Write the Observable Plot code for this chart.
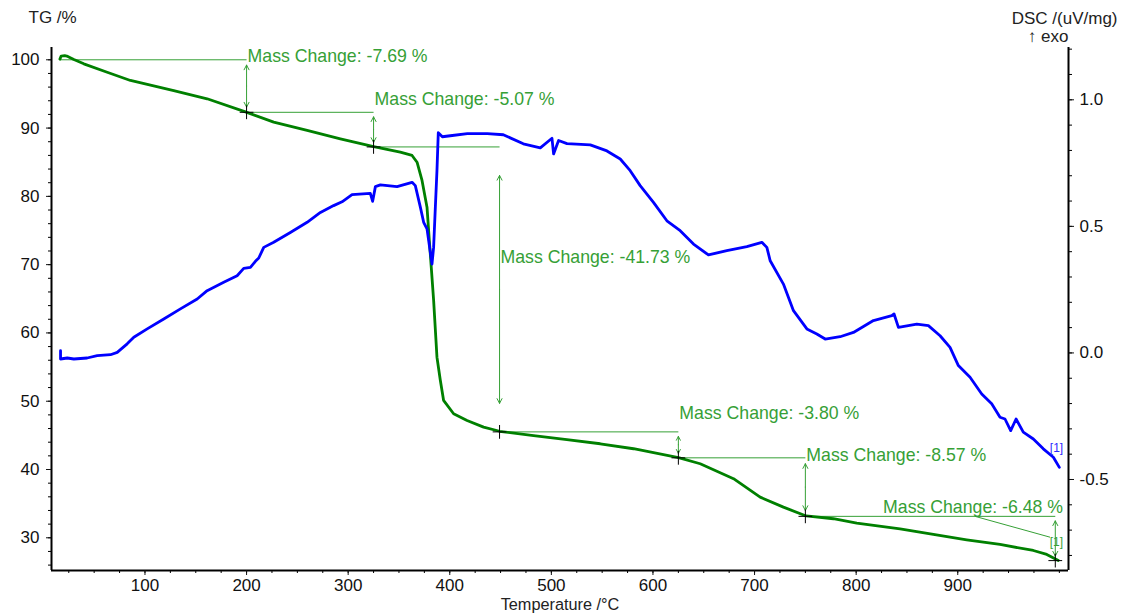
<!DOCTYPE html>
<html><head><meta charset="utf-8">
<script src="https://cdn.jsdelivr.net/npm/d3@7"></script>
<script src="https://cdn.jsdelivr.net/npm/@observablehq/plot@0.6"></script>
<style>html,body{margin:0;padding:0;background:#fff;overflow:hidden;}</style>
</head><body><div id="chart"></div>
<script>
// ---------- data ----------
// TG curve: [temperature °C, TG %]
const tgCurve = [[16.3,100.1],[17.5,100.55],[21,100.6],[24,100.5],[30,100.05],[39.8,99.41],[62.8,98.18],[85.7,96.97],[128.3,95.5],[161.2,94.29],[199.6,92.33],[226.7,90.87],[259.6,89.65],[292.3,88.43],[325.1,87.3],[351.3,86.47],[362.9,85.99],[367.8,85.0],[372.7,82.33],[377.6,78.42],[379.9,73.5],[381.8,69.6],[384.1,64.8],[387.4,56.45],[390.7,53.06],[393.9,50.13],[403.8,48.16],[417,47.18],[433.3,46.2],[449,45.6],[482.5,44.97],[515.3,44.36],[548.1,43.77],[580.9,43.04],[625.1,41.75],[646.5,40.84],[679.3,38.65],[705.5,35.95],[728.4,34.49],[750.8,33.2],[777.6,32.79],[800.6,32.14],[843.2,31.32],[876,30.49],[908.8,29.71],[941.6,29.02],[974.4,28.14],[987.6,27.56],[999,26.68]];
// DSC curve: [temperature °C, DSC uV/mg]
const dscCurve = [[16.9,0.009],[16.9,-0.024],[23.5,-0.020],[30.0,-0.024],[43.1,-0.020],[53,-0.011],[66.1,-0.007],[72.7,0.002],[82.5,0.036],[89,0.062],[102.2,0.095],[118.5,0.134],[134.9,0.174],[151.4,0.213],[161.2,0.246],[177.5,0.279],[190.7,0.305],[197.2,0.334],[203.8,0.338],[208.7,0.362],[212,0.375],[216.9,0.417],[226.7,0.437],[243.1,0.476],[259.6,0.516],[272.7,0.555],[285.7,0.582],[294,0.597],[303.8,0.625],[321.8,0.630],[324.1,0.599],[326.8,0.657],[331.7,0.664],[348.1,0.657],[362.9,0.674],[366.1,0.661],[371.1,0.575],[374.3,0.516],[377.6,0.490],[382.5,0.351],[384.1,0.417],[385.8,0.575],[387.4,0.720],[388.7,0.870],[392.7,0.854],[400.5,0.858],[417.3,0.866],[436.9,0.866],[452.7,0.862],[472.4,0.826],[489.1,0.810],[500.6,0.848],[502.2,0.786],[507.1,0.839],[515.4,0.827],[538.3,0.822],[554.7,0.798],[567.8,0.766],[577.6,0.720],[587.4,0.661],[600.5,0.595],[613.7,0.522],[626.8,0.483],[639.9,0.430],[654.6,0.387],[672.7,0.404],[692.4,0.420],[707.2,0.437],[712.1,0.417],[715.4,0.364],[728.4,0.272],[738.3,0.167],[751.5,0.095],[761.3,0.075],[769.5,0.055],[784.2,0.064],[797.3,0.081],[817,0.128],[835.1,0.147],[837.3,0.154],[841.6,0.101],[859.7,0.114],[871.1,0.108],[882.6,0.068],[892.4,0.022],[900.6,-0.050],[912.1,-0.096],[923.6,-0.162],[933.4,-0.201],[941.6,-0.254],[946.5,-0.261],[952.1,-0.307],[957.4,-0.261],[964.5,-0.313],[974.4,-0.340],[984.2,-0.379],[994.1,-0.412],[1000,-0.452]];

// Mass-change steps
const stepT = [16.5, 200, 325, 449, 625, 750, 996];
const stepLevel = [100.0, 92.31, 87.24, 45.51, 41.71, 33.14, 26.66];
const massChange = ["-7.69", "-5.07", "-41.73", "-3.80", "-8.57", "-6.48"];
const labelT = [200, 325, 449, 625, 750, 1003.6];
const labelTG = [100.48, 94.19, 71.05, 48.2, 42.06, 34.48];
const labelAnchor = ["start", "start", "start", "start", "start", "end"];
const leader6 = [[917, 33.14], [990.8, 30.09]];
const tgSegMark = {t: 997, tg: 29.38, text: "[1]"};
const dscSegMark = {t: 997.2, dsc: -0.375, text: "[1]"};

// axes
const xMajorTicks = [100, 200, 300, 400, 500, 600, 700, 800, 900];
const xMinorTicks = d3.range(25, 1001, 25);
const tgMajorTicks = [30, 40, 50, 60, 70, 80, 90, 100];
const tgMinorTicks = d3.range(26, 101, 2);
const dscMajorTicks = [-0.5, 0.0, 0.5, 1.0];
const dscMinorTicks = d3.range(-8, 13, 1).map(v => v / 10);

// ---------- layout ----------
const W = 1126, H = 613;
const mL = 51, mR = 58, mT = 47, mB = 43;
const xDomain = [8, 1009];
const tgDomain = [25.21, 101.8];
const dscDomain = [-0.8595, 1.2066];
const dscToTG = d3.scaleLinear(dscDomain, tgDomain);
const pxPerTG = (H - mT - mB) / (tgDomain[1] - tgDomain[0]);
const ann = "#36a036";
const fmt1 = v => { const r = Math.round(v * 10) / 10; return (r === 0 ? 0 : r).toFixed(1); };

const steps = [];
for (let i = 1; i < stepT.length; i++) {
  steps.push({x0: stepT[i - 1], x1: stepT[i], a: stepLevel[i - 1], b: stepLevel[i], mid: (stepLevel[i - 1] + stepLevel[i]) / 2});
}
const labels = massChange.map((m, i) => ({t: labelT[i], tg: labelTG[i], anchor: labelAnchor[i], text: `Mass Change: ${m} %`}));

const arrowMarks = [];
for (const s of steps) {
  const inset = Math.max(4.5, 0.1 * (s.a - s.b) * pxPerTG);
  arrowMarks.push(Plot.arrow([s], {x1: "x1", y1: "mid", x2: "x1", y2: "a", insetEnd: inset, stroke: ann, strokeWidth: 1, headLength: 8, headAngle: 55}));
  arrowMarks.push(Plot.arrow([s], {x1: "x1", y1: "mid", x2: "x1", y2: "b", insetEnd: inset, stroke: ann, strokeWidth: 1, headLength: 8, headAngle: 55}));
}

const chart = Plot.plot({
  width: W, height: H,
  marginLeft: mL, marginRight: mR, marginTop: mT, marginBottom: mB,
  x: {domain: xDomain, label: null},
  y: {domain: tgDomain, label: null},
  style: {fontFamily: "'Liberation Sans', Arial, sans-serif", fontSize: "17px", background: "#fff", color: "#111"},
  marks: [
    // annotation lines
    Plot.link(steps, {x1: "x0", y1: "a", x2: "x1", y2: "a", stroke: ann, strokeWidth: 1}),
    Plot.link([leader6], {x1: d => d[0][0], y1: d => d[0][1], x2: d => d[1][0], y2: d => d[1][1], stroke: ann, strokeWidth: 1}),
    ...arrowMarks,
    // curves
    Plot.line(tgCurve, {x: d => d[0], y: d => d[1], stroke: "#008000", strokeWidth: 2.8}),
    Plot.line(dscCurve, {x: d => d[0], y: d => dscToTG(d[1]), stroke: "#0000ff", strokeWidth: 2.8}),
    // step markers
    Plot.dot(steps, {x: "x1", y: "b", symbol: "plus", r: 4.5, stroke: "#000", strokeWidth: 1}),
    // labels
    Plot.text(labels.filter(d => d.anchor === "start"), {x: "t", y: "tg", text: "text", textAnchor: "start", dx: 1, fill: ann, fontSize: 17.7}),
    Plot.text(labels.filter(d => d.anchor === "end"), {x: "t", y: "tg", text: "text", textAnchor: "end", fill: ann, fontSize: 17.7}),
    Plot.text([tgSegMark], {x: "t", y: "tg", text: "text", fill: ann, fontSize: 12}),
    Plot.text([dscSegMark], {x: "t", y: d => dscToTG(d.dsc), text: "text", fill: "#2a2aff", fontSize: 12}),
    // axes
    Plot.ruleX(xDomain, {stroke: "#000", strokeWidth: 2}),
    Plot.ruleY([tgDomain[0]], {stroke: "#000", strokeWidth: 2}),
    Plot.axisX({ticks: xMinorTicks, tickSize: 3, tickFormat: () => "", color: "#000", label: null}),
    Plot.axisX({ticks: xMajorTicks, tickSize: 5, tickPadding: 3.5, tickFormat: d => String(d), color: "#111", label: null}),
    Plot.axisY({ticks: tgMinorTicks, tickSize: 3, tickFormat: () => "", color: "#000", label: null}),
    Plot.axisY({ticks: tgMajorTicks, tickSize: 5, tickPadding: 7, tickFormat: d => String(d), color: "#111", label: null}),
    Plot.axisY({anchor: "right", ticks: dscMinorTicks.map(dscToTG), tickSize: 3, tickFormat: () => "", color: "#000", label: null}),
    Plot.axisY({anchor: "right", ticks: dscMajorTicks.map(dscToTG), tickSize: 5, tickPadding: 6, tickFormat: d => fmt1(dscToTG.invert(d)), color: "#111", label: null}),
    // axis titles
    Plot.text(["TG /%"], {text: d => d, frameAnchor: "top-left", dx: -23, dy: -30, textAnchor: "start", lineAnchor: "middle", fill: "#222"}),
    Plot.text(["DSC /(uV/mg)"], {text: d => d, frameAnchor: "top-right", dx: 49, dy: -29, textAnchor: "end", lineAnchor: "middle", fill: "#222"}),
    Plot.text(["\u2191 exo"], {text: d => d, frameAnchor: "top-right", dx: 0, dy: -11, textAnchor: "end", lineAnchor: "middle", fill: "#222"}),
    Plot.text(["Temperature /\u00B0C"], {text: d => d, frameAnchor: "bottom", dy: 27.8, lineAnchor: "top", fill: "#222", fontSize: 16.3})
  ]
});
document.getElementById("chart").appendChild(chart);
</script>
</body></html>
